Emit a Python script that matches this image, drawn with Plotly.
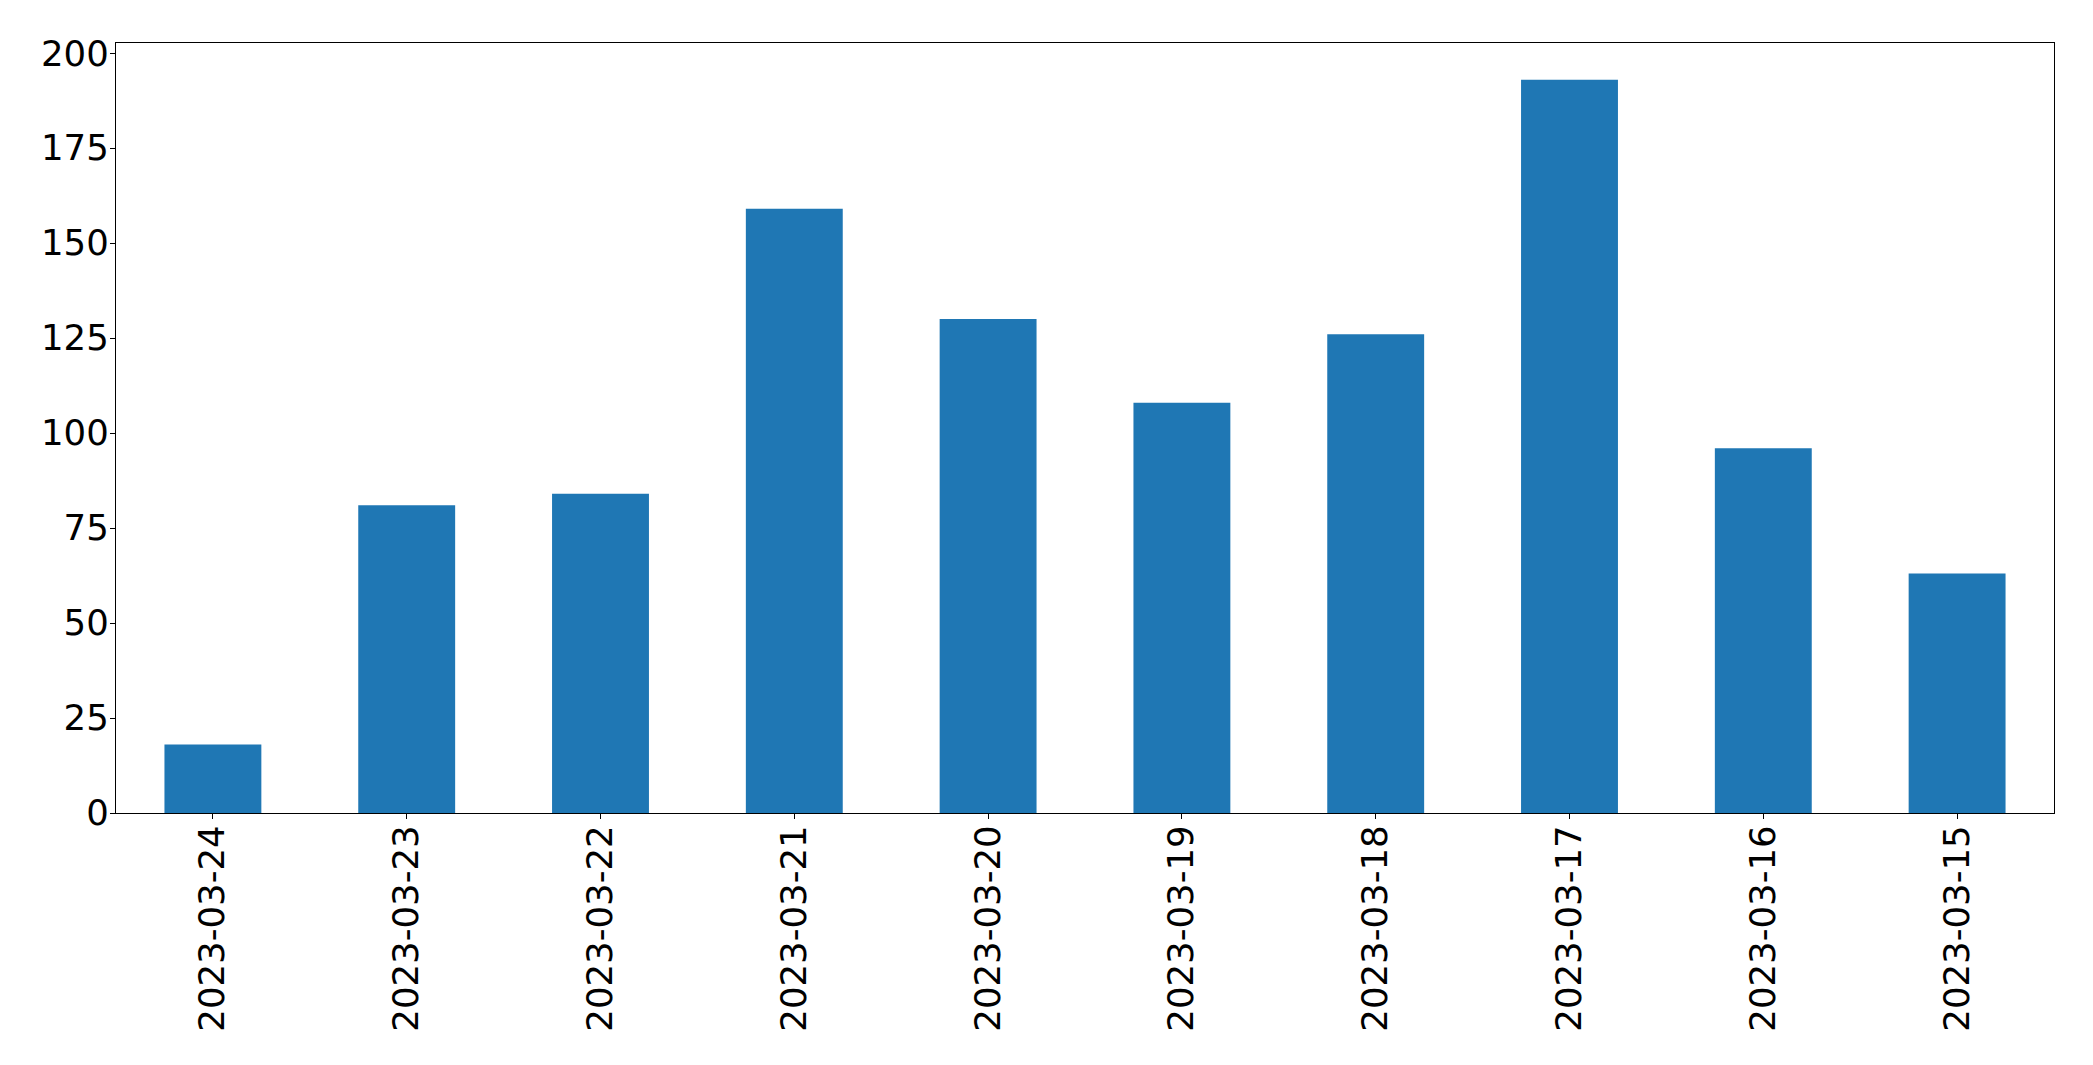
import plotly.graph_objects as go

dates = ["2023-03-24", "2023-03-23", "2023-03-22", "2023-03-21", "2023-03-20",
         "2023-03-19", "2023-03-18", "2023-03-17", "2023-03-16", "2023-03-15"]
counts = [18, 81, 84, 159, 130, 108, 126, 193, 96, 63]
y_ticks = [0, 25, 50, 75, 100, 125, 150, 175, 200]

fig = go.Figure(go.Bar(x=dates, y=counts, marker=dict(color="#1f77b4", line=dict(width=0))))

font = dict(family="DejaVu Sans", size=35.5, color="black")
fig.update_layout(
    width=2093, height=1065,
    margin=dict(l=108, r=47, t=35, b=260),
    paper_bgcolor="white", plot_bgcolor="white",
    bargap=0.5, showlegend=False, font=font,
)
fig.update_xaxes(
    type="category", range=[-0.5, len(dates) - 0.5], tickangle=-90,
    showline=True, linecolor="black", linewidth=1.3, mirror=True,
    ticks="outside", ticklen=5, tickwidth=1.3, tickcolor="black",
    showgrid=False, zeroline=False, tickfont=font, ticklabelstandoff=-8,
)
fig.update_yaxes(
    range=[0, max(counts) * 1.05], tickvals=y_ticks,
    showline=True, linecolor="black", linewidth=1.3, mirror=True,
    ticks="outside", ticklen=5, tickwidth=1.3, tickcolor="black",
    showgrid=False, zeroline=False, tickfont=font, ticklabelstandoff=-6,
)
fig.write_html("out.html")
